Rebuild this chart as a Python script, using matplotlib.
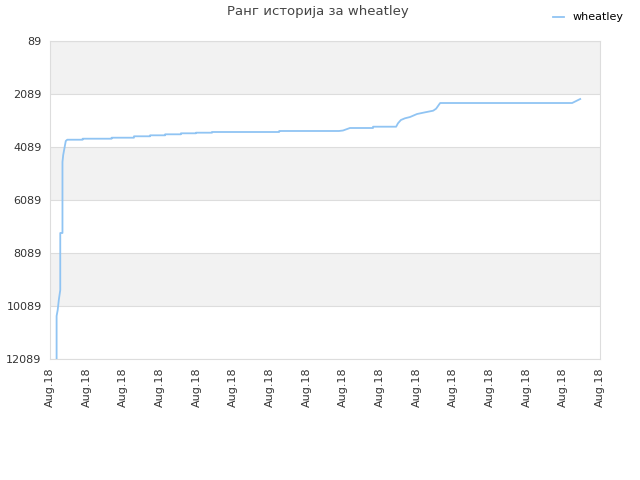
import numpy as np
import matplotlib
matplotlib.use("Agg")
import matplotlib.pyplot as plt

# time (in tick units along the x axis) and rank values
t = [0.18, 0.18, 0.21, 0.24, 0.28, 0.28, 0.34, 0.34, 0.36, 0.40, 0.43, 0.47,
     0.89, 0.89, 1.68, 1.68, 2.29, 2.29, 2.73, 2.73, 3.14, 3.14, 3.57, 3.57,
     3.98, 3.98, 4.42, 4.42, 6.25, 6.25, 7.88, 7.99, 8.18, 8.81, 8.81, 9.44,
     9.49, 9.57, 9.68, 9.82, 10.01, 10.23, 10.45, 10.53, 10.64, 14.24, 14.46]
rank = [12089, 10466, 10240, 9863, 9485, 7334, 7334, 4655, 4391, 4089, 3863,
        3814, 3814, 3776, 3776, 3738, 3738, 3685, 3685, 3648, 3648, 3610, 3610,
        3572, 3572, 3549, 3549, 3523, 3523, 3485, 3485, 3467, 3372, 3372, 3323,
        3323, 3195, 3070, 3006, 2957, 2844, 2780, 2719, 2644, 2429, 2429, 2278]
yticks = [89, 2089, 4089, 6089, 8089, 10089, 12089]
xlabels = ["Aug.18"] * 16

fig = plt.figure(figsize=(6.4, 4.8), dpi=100)
ax = fig.add_axes([50 / 640, 1 - 359 / 480, 550 / 640, 318 / 480])

# alternating bands
for i in range(len(yticks) - 1):
    if i % 2 == 0:
        ax.axhspan(yticks[i], yticks[i + 1], color="#f2f2f2", zorder=0, lw=0)
for y in yticks:
    ax.axhline(y, color="#dddddd", lw=0.8, zorder=1)

ax.plot(t, rank, color="#90c4f3", lw=1.3, label="wheatley", zorder=3)

ax.set_ylim(12089, 89)
ax.set_xlim(0, 15)
ax.set_yticks(yticks)
ax.set_yticklabels([str(v) for v in yticks])
ax.set_xticks(np.arange(16))
ax.set_xticklabels(xlabels, rotation=90)
ax.tick_params(length=0, labelsize=8, colors="#333333", pad=6)
for s in ax.spines.values():
    s.set_color("#dddddd")

fig.text(0.497, 1 - 12 / 480, "Ранг историја за wheatley", ha="center",
         va="center", fontsize=9.5, color="#444444")
fig.legend(loc="upper right", bbox_to_anchor=(0.99, 0.995), frameon=False,
           fontsize=8, handlelength=1.0)

fig.savefig("out.png", dpi=100)
